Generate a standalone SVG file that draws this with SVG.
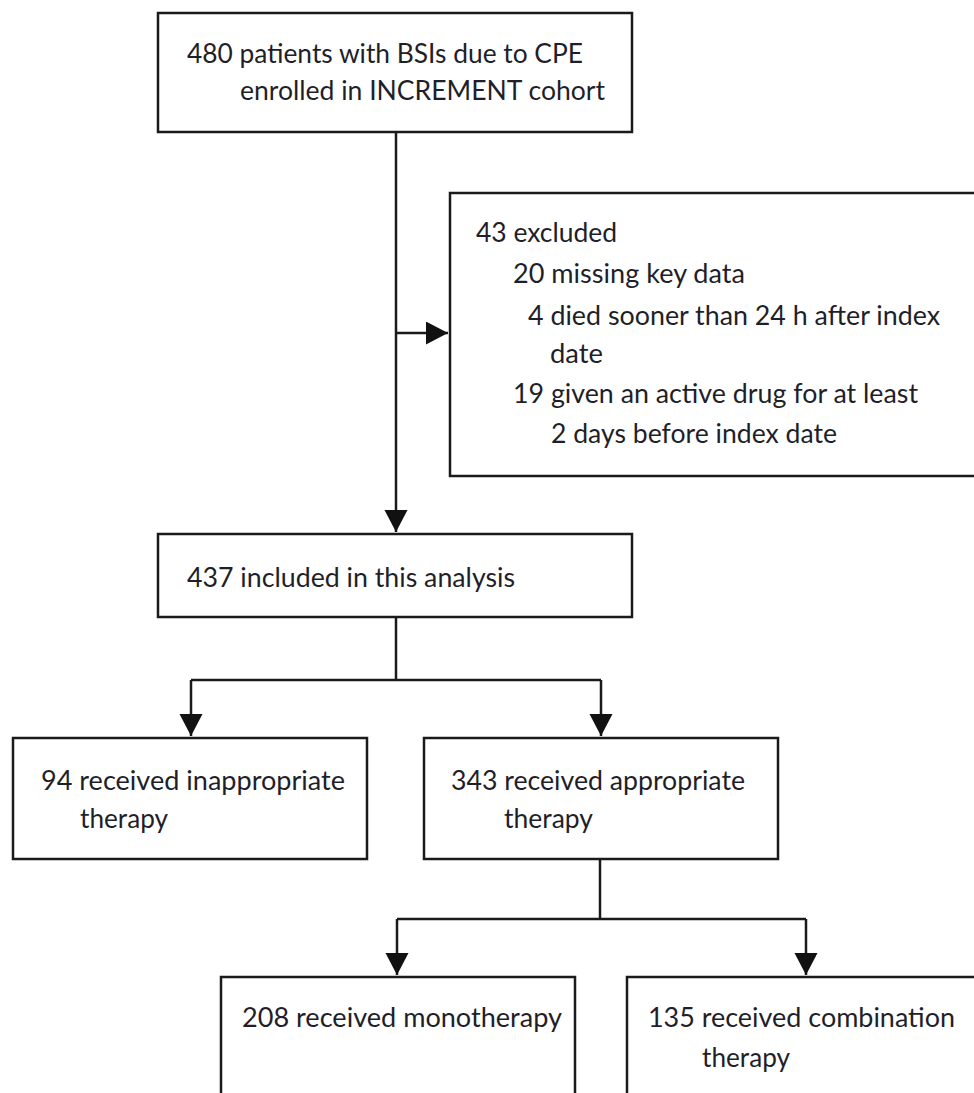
<svg xmlns="http://www.w3.org/2000/svg" width="974" height="1093" viewBox="0 0 974 1093">
<style>
.box{fill:#fff;stroke:#1a1a1a;stroke-width:2.5}
.t{font-family:"Lato","Noto Sans","DejaVu Sans",sans-serif;font-size:27px;fill:#1f1f2a}
.c{fill:none;stroke:#1a1a1a;stroke-width:2.5}
</style>
<defs>
<marker id="ah" markerUnits="userSpaceOnUse" markerWidth="24" markerHeight="24" refX="22" refY="11.5" orient="auto" viewBox="0 0 24 24">
<path d="M0,0 L22,11.5 L0,23 Z" fill="#111"/>
</marker>
</defs>
<rect width="974" height="1093" fill="#fff"/>
<g id="connectors">
<path class="c" d="M396,132 V532" marker-end="url(#ah)"/>
<path class="c" d="M396,333 H448" marker-end="url(#ah)"/>
<path class="c" d="M396,617 V680"/>
<path class="c" d="M191,680 H601"/>
<path class="c" d="M191,680 V736" marker-end="url(#ah)"/>
<path class="c" d="M601,680 V736" marker-end="url(#ah)"/>
<path class="c" d="M600,859 V919"/>
<path class="c" d="M397,919 H806"/>
<path class="c" d="M397,919 V975" marker-end="url(#ah)"/>
<path class="c" d="M806,919 V975" marker-end="url(#ah)"/>
</g>
<g id="n1">
<rect class="box" x="158" y="13" width="474" height="119"/>
<text class="t" x="187" y="63" textLength="396" lengthAdjust="spacingAndGlyphs">480 patients with BSIs due to CPE</text>
<text class="t" x="240" y="100" textLength="365" lengthAdjust="spacingAndGlyphs">enrolled in INCREMENT cohort</text>
</g>
<g id="n2">
<rect class="box" x="450" y="193" width="560" height="283"/>
<text class="t" x="476" y="242" textLength="141" lengthAdjust="spacingAndGlyphs">43 excluded</text>
<text class="t" x="513" y="283" textLength="232" lengthAdjust="spacingAndGlyphs">20 missing key data</text>
<text class="t" x="528" y="325" textLength="412" lengthAdjust="spacingAndGlyphs">4 died sooner than 24 h after index</text>
<text class="t" x="550" y="363" textLength="53" lengthAdjust="spacingAndGlyphs">date</text>
<text class="t" x="513" y="403" textLength="405" lengthAdjust="spacingAndGlyphs">19 given an active drug for at least</text>
<text class="t" x="551" y="443" textLength="286" lengthAdjust="spacingAndGlyphs">2 days before index date</text>
</g>
<g id="n3">
<rect class="box" x="158" y="534" width="474" height="83"/>
<text class="t" x="187" y="587" textLength="328" lengthAdjust="spacingAndGlyphs">437 included in this analysis</text>
</g>
<g id="n4">
<rect class="box" x="13" y="738" width="354" height="121"/>
<text class="t" x="41" y="790" textLength="304" lengthAdjust="spacingAndGlyphs">94 received inappropriate</text>
<text class="t" x="80" y="828" textLength="88" lengthAdjust="spacingAndGlyphs">therapy</text>
</g>
<g id="n5">
<rect class="box" x="424" y="738" width="354" height="121"/>
<text class="t" x="451" y="790" textLength="294" lengthAdjust="spacingAndGlyphs">343 received appropriate</text>
<text class="t" x="504" y="828" textLength="89" lengthAdjust="spacingAndGlyphs">therapy</text>
</g>
<g id="n6">
<rect class="box" x="221" y="977" width="354" height="140"/>
<text class="t" x="242" y="1027" textLength="320" lengthAdjust="spacingAndGlyphs">208 received monotherapy</text>
</g>
<g id="n7">
<rect class="box" x="627" y="977" width="380" height="140"/>
<text class="t" x="648" y="1027" textLength="307" lengthAdjust="spacingAndGlyphs">135 received combination</text>
<text class="t" x="702" y="1067" textLength="88" lengthAdjust="spacingAndGlyphs">therapy</text>
</g>
</svg>
